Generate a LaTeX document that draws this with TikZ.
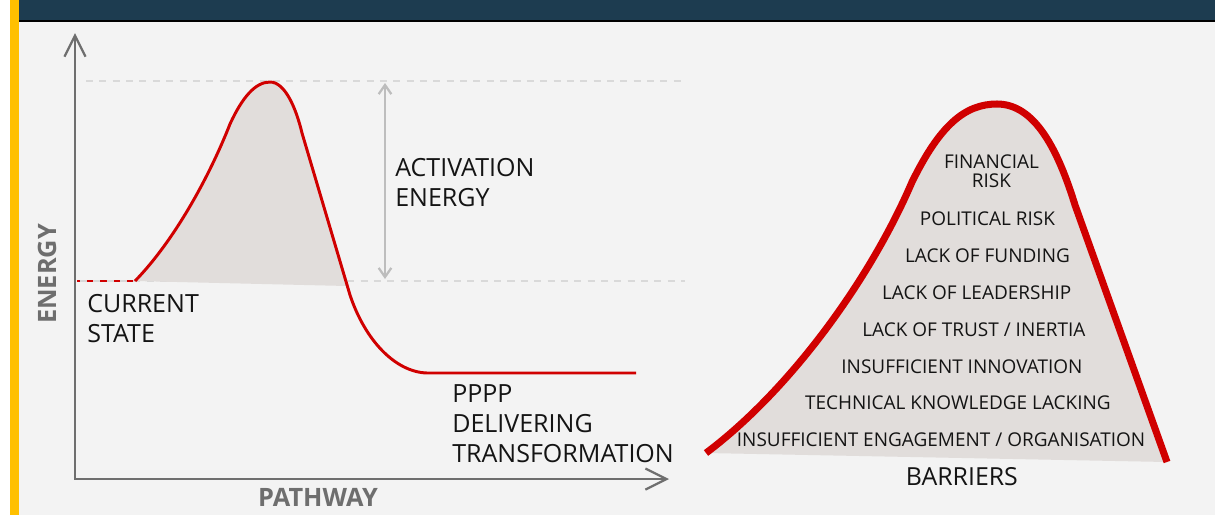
\documentclass[tikz,border=0pt]{standalone}
\usepackage{fontspec}
\setmainfont{Open Sans}
\usetikzlibrary{arrows.meta}

\definecolor{navy}{HTML}{1D3C50}
\definecolor{gold}{HTML}{FFC000}
\definecolor{panel}{HTML}{F3F3F3}
\definecolor{curvered}{HTML}{D00000}
\definecolor{humpfill}{HTML}{E1DDDB}
\definecolor{axisgrey}{HTML}{6E6E6E}
\definecolor{guidegrey}{HTML}{D9D9D9}
\definecolor{arrowgrey}{HTML}{BDBDBD}
\definecolor{ink}{HTML}{141414}

\begin{document}
\begin{tikzpicture}[x=0.025cm, y=-0.025cm]
	\tikzstyle{Axis} = [draw=axisgrey, line width=1.6pt, line join=miter]
	\tikzstyle{Guide} = [draw=guidegrey, line width=1.4pt, dash pattern=on 5pt off 4.5pt]
	\tikzstyle{Curve} = [draw=curvered, line width=2.1pt, line join=round]
	\tikzstyle{Label} = [font=\fontsize{17.8}{21.3}\selectfont, text=ink, align=left, inner sep=0pt]
	\tikzstyle{AxisLabel} = [font=\fontsize{18}{21}\selectfont\bfseries, text=axisgrey, inner sep=0pt]
	\tikzstyle{Barrier} = [font=\fontsize{13.5}{13.5}\selectfont, text=ink, text height=9.7pt, text depth=0pt, inner sep=0pt, node distance=0.92cm]

	% frame
	\useasboundingbox (0,0) rectangle (1215,515);
	\fill[white] (0,0) rectangle (1215,515);
	\fill[panel] (19,22) rectangle (1215,515);
	\fill[navy] (19,0) rectangle (1215,20);
	\draw[black, line width=1.5pt] (18,21) -- (1215,21);
	\fill[gold] (10,0) rectangle (19,515);

	% axes
	\coordinate (origin) at (75,479);
	\coordinate (ytop) at (75,33);
	\coordinate (xend) at (669,479);
	\draw[Axis, {Straight Barb[length=15pt,width=15pt]}-{Straight Barb[length=15pt,width=15pt]}] (ytop) -- (origin) -- (xend);
	\node[name=energy, AxisLabel, rotate=90] at (47,274) {ENERGY};
	\node[name=pathway, AxisLabel] at (318,497) {PATHWAY};

	% energy curve
	\draw[Curve] (77,281) -- (135,281);
	\draw[Guide] (86,81) -- (685,81);
	\draw[Guide] (80,281) -- (685,281);
	\fill[humpfill] (135,281) .. controls (175,240) and (210,175) .. (230,124)
		.. controls (242,98) and (255,82) .. (270,82)
		.. controls (285,82) and (296,108) .. (302,133)
		-- (347,286) -- cycle;
	\draw[Curve] (135,281) .. controls (175,240) and (210,175) .. (230,124)
		.. controls (242,98) and (255,82) .. (270,82)
		.. controls (285,82) and (296,108) .. (302,133)
		-- (350,295) .. controls (365,340) and (395,372) .. (427,373)
		-- (636,373);

	\coordinate (acttop) at (385,83);
	\coordinate (actbot) at (385,279);
	\draw[arrowgrey, line width=1.6pt, {Straight Barb[length=6.5pt,width=9pt]}-{Straight Barb[length=6.5pt,width=9pt]}] (acttop) -- (actbot);

	\node[name=activation, Label, anchor=north west] at (395,158) {ACTIVATION\\ENERGY};
	\node[name=current, Label, anchor=north west] at (87,294) {CURRENT\\STATE};
	\node[name=target, Label, anchor=north west] at (452,384) {PPPP\\DELIVERING\\TRANSFORMATION};

	% barriers hill
	\fill[humpfill] (706,453) .. controls (790,390) and (870,280) .. (912,182)
		.. controls (940,125) and (965,104) .. (997,104)
		.. controls (1035,104) and (1058,150) .. (1075,205)
		-- (1167,462) -- cycle;
	\draw[curvered, line width=5pt] (706,453) .. controls (790,390) and (870,280) .. (912,182)
		.. controls (940,125) and (965,104) .. (997,104)
		.. controls (1035,104) and (1058,150) .. (1075,205)
		-- (1167,462);

	\node[name=b1, Barrier] at (987.5,219) {POLITICAL RISK};
	\node[name=b0, Barrier, above of=b1, node distance=1.19cm, xshift=0.1cm, align=center, text height=, text depth=] {FINANCIAL\\RISK};
	\node[name=b2, Barrier, below of=b1] {LACK OF FUNDING};
	\node[name=b3, Barrier, below of=b2, xshift=-0.27cm] {LACK OF LEADERSHIP};
	\node[name=b4, Barrier, below of=b3, xshift=-0.07cm] {LACK OF TRUST / INERTIA};
	\node[name=b5, Barrier, below of=b4, xshift=-0.3cm] {INSUFFICIENT INNOVATION};
	\node[name=b6, Barrier, below of=b5, xshift=-0.1cm] {TECHNICAL KNOWLEDGE LACKING};
	\node[name=b7, Barrier, below of=b6, xshift=-0.42cm] {INSUFFICIENT ENGAGEMENT / ORGANISATION};
	\node[name=barriers, Barrier, below of=b7, node distance=0.975cm, xshift=0.52cm, font=\fontsize{17.7}{20}\selectfont] {BARRIERS};
\end{tikzpicture}
\end{document}
